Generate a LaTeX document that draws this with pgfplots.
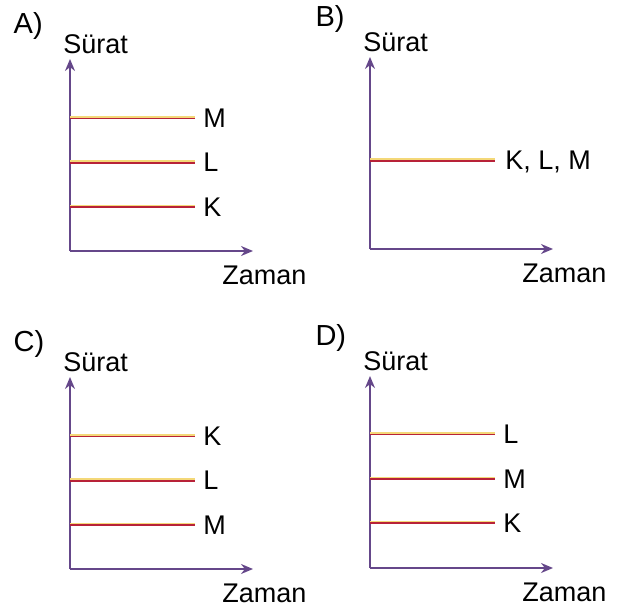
\documentclass[border=0pt]{standalone}
\usepackage{pgfplots}
\pgfplotsset{compat=1.18}
\usepackage{fontspec}
\setmainfont{Liberation Sans}
\usetikzlibrary{arrows.meta}

\definecolor{axpurple}{HTML}{65478A}
\definecolor{linered}{HTML}{B82238}
\definecolor{lineyel}{HTML}{F4D878}

\pgfplotsset{
  panel/.style={
    scale only axis,
    width=91.5pt, height=96pt,
    axis lines=left,
    axis line style={draw=axpurple, line width=0.9pt, -{Stealth[length=6pt,width=5pt]}},
    xmin=0, xmax=10, ymin=0, ymax=10,
    xtick=\empty, ytick=\empty,
    clip=false,
    anchor=south west,
  },
  hl/.style={draw=lineyel, line width=1pt, yshift=0.6pt, forget plot},
  rl/.style={draw=linered, line width=0.9pt, forget plot},
}
\tikzset{
  txt/.style={font=\fontsize{13.5}{15}\selectfont, inner sep=0pt, text depth=0pt},
  lbl/.style={txt, anchor=west, xshift=4pt},
}

\begin{document}
\begin{tikzpicture}
\useasboundingbox (0,0) rectangle (310.5pt,306pt);

% A
\begin{axis}[panel, at={(35pt,180.5pt)}]
\addplot[hl] coordinates {(0,6.9) (6.83,6.9)};
\addplot[rl] coordinates {(0,6.9) (6.83,6.9)};
\addplot[hl] coordinates {(0,4.6) (6.83,4.6)};
\addplot[rl] coordinates {(0,4.6) (6.83,4.6)};
\addplot[hl] coordinates {(0,2.3) (6.83,2.3)};
\addplot[rl] coordinates {(0,2.3) (6.83,2.3)};
\node[lbl] at (axis cs:6.83,6.9) {M};
\node[lbl] at (axis cs:6.83,4.6) {L};
\node[lbl] at (axis cs:6.83,2.3) {K};
\node[txt, anchor=base west] at (rel axis cs:-0.038,1.031) {Sürat};
\node[txt, anchor=base west] at (rel axis cs:0.83,-0.176) {Zaman};
\node[txt, anchor=base west, font=\fontsize{14.5}{16}\selectfont] at (rel axis cs:-0.31,1.135) {A)};
\end{axis}

% B
\begin{axis}[panel, at={(185pt,181.5pt)}]
\addplot[hl] coordinates {(0,4.6) (6.83,4.6)};
\addplot[rl] coordinates {(0,4.6) (6.83,4.6)};
\node[lbl, xshift=1pt] at (axis cs:6.83,4.6) {K, L, M};
\node[txt, anchor=base west] at (rel axis cs:-0.038,1.031) {Sürat};
\node[txt, anchor=base west] at (rel axis cs:0.83,-0.176) {Zaman};
\node[txt, anchor=base west, font=\fontsize{14.5}{16}\selectfont] at (rel axis cs:-0.30,1.16) {B)};
\end{axis}

% C
\begin{axis}[panel, at={(35pt,21.5pt)}]
\addplot[hl] coordinates {(0,6.9) (6.83,6.9)};
\addplot[rl] coordinates {(0,6.9) (6.83,6.9)};
\addplot[hl] coordinates {(0,4.6) (6.83,4.6)};
\addplot[rl] coordinates {(0,4.6) (6.83,4.6)};
\addplot[hl] coordinates {(0,2.3) (6.83,2.3)};
\addplot[rl] coordinates {(0,2.3) (6.83,2.3)};
\node[lbl] at (axis cs:6.83,6.9) {K};
\node[lbl] at (axis cs:6.83,4.6) {L};
\node[lbl] at (axis cs:6.83,2.3) {M};
\node[txt, anchor=base west] at (rel axis cs:-0.038,1.031) {Sürat};
\node[txt, anchor=base west] at (rel axis cs:0.83,-0.176) {Zaman};
\node[txt, anchor=base west, font=\fontsize{14.5}{16}\selectfont] at (rel axis cs:-0.31,1.135) {C)};
\end{axis}

% D
\begin{axis}[panel, at={(185pt,22pt)}]
\addplot[hl] coordinates {(0,6.95) (6.83,6.95)};
\addplot[rl] coordinates {(0,6.95) (6.83,6.95)};
\addplot[hl] coordinates {(0,4.63) (6.83,4.63)};
\addplot[rl] coordinates {(0,4.63) (6.83,4.63)};
\addplot[hl] coordinates {(0,2.35) (6.83,2.35)};
\addplot[rl] coordinates {(0,2.35) (6.83,2.35)};
\node[lbl] at (axis cs:6.83,6.95) {L};
\node[lbl] at (axis cs:6.83,4.63) {M};
\node[lbl] at (axis cs:6.83,2.35) {K};
\node[txt, anchor=base west] at (rel axis cs:-0.038,1.031) {Sürat};
\node[txt, anchor=base west] at (rel axis cs:0.83,-0.176) {Zaman};
\node[txt, anchor=base west, font=\fontsize{14.5}{16}\selectfont] at (rel axis cs:-0.30,1.16) {D)};
\end{axis}
\end{tikzpicture}
\end{document}
